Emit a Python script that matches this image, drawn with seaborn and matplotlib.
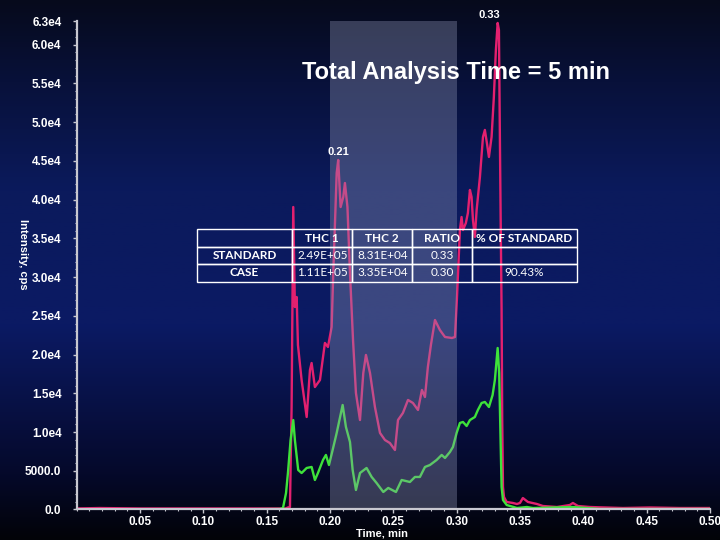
import numpy as np
import pandas as pd
import matplotlib
matplotlib.use("Agg")
import matplotlib.pyplot as plt
import seaborn as sns
from matplotlib.colors import LinearSegmentedColormap
from matplotlib.ticker import FixedLocator, MultipleLocator

# ---- data ----
time_pink = [0.000, 0.018, 0.050, 0.097, 0.145, 0.165, 0.1668, 0.1684, 0.1697, 0.1710, 0.1723, 0.1737,
             0.1747, 0.1776, 0.1816, 0.1842, 0.1855, 0.1881, 0.1921, 0.1960, 0.1984, 0.2013, 0.2026, 0.2053,
             0.2065, 0.2084, 0.2105, 0.2118, 0.2138, 0.2158, 0.2182, 0.2205, 0.2237, 0.2263, 0.2284, 0.2316,
             0.2355, 0.2395, 0.2434, 0.2473, 0.2513, 0.2537, 0.2576, 0.2616, 0.2655, 0.2695, 0.2726, 0.2750,
             0.2773, 0.2797, 0.2829, 0.2868, 0.2908, 0.2963, 0.2987, 0.3002, 0.3026, 0.3039, 0.3050, 0.3073,
             0.3089, 0.3105, 0.3118, 0.3129, 0.3144, 0.3158, 0.3184, 0.3208, 0.3223, 0.3239, 0.3255, 0.3276,
             0.3294, 0.3310, 0.3324, 0.3334, 0.3342, 0.3347, 0.3355, 0.3360, 0.3366, 0.3374, 0.3395, 0.3444,
             0.3476, 0.3500, 0.3523, 0.3563, 0.3634, 0.3681, 0.3792, 0.3894, 0.3918, 0.3958, 0.4053, 0.4313,
             0.4526, 0.4763, 0.5000]
intensity_pink = [130, 190, 130, 130, 130, 130, 260, 320, 13230, 39050, 26140, 27430,
                  21240, 16720, 11940, 18010, 18910, 15810, 16720, 21500, 20980, 23560, 30530, 43440,
                  45120, 39050, 40340, 42150, 39050, 30530, 21880, 15040, 11550, 17620, 19950, 17620,
                  13230, 9880, 8970, 8580, 7680, 11550, 12460, 14140, 13750, 12850, 15430, 14520,
                  18400, 21240, 24460, 23170, 22270, 22140, 22270, 27050, 36080, 37760, 36080, 36990,
                  38280, 41250, 40340, 37370, 35180, 38670, 42930, 48090, 49000, 47320, 45510, 48090,
                  53250, 59320, 62810, 61900, 47320, 38670, 25760, 11550, 2900, 1610, 970, 840,
                  710, 840, 1480, 970, 710, 450, 320, 580, 840, 450, 320, 190,
                  260, 190, 190]

time_green = [0.000, 0.097, 0.1605, 0.1629, 0.1653, 0.1668, 0.1689, 0.1710, 0.1723, 0.1749, 0.1776, 0.1816,
              0.1855, 0.1881, 0.1905, 0.1945, 0.1968, 0.1992, 0.2021, 0.2053, 0.2100, 0.2126, 0.2158, 0.2179,
              0.2205, 0.2237, 0.2289, 0.2329, 0.2368, 0.2421, 0.2460, 0.2521, 0.2566, 0.2631, 0.2671, 0.2710,
              0.2750, 0.2789, 0.2842, 0.2882, 0.2908, 0.2947, 0.2971, 0.3000, 0.3026, 0.3050, 0.3079, 0.3105,
              0.3144, 0.3168, 0.3197, 0.3223, 0.3255, 0.3284, 0.3302, 0.3324, 0.3336, 0.3347, 0.3355, 0.3366,
              0.3395, 0.3476, 0.3555, 0.3603, 0.3918, 0.4132, 0.5000]
intensity_green = [0, 0, 60, 190, 2130, 4710, 8970, 11550, 8970, 5100, 4710, 5360,
                   5490, 3810, 4710, 6390, 7040, 5740, 7680, 9880, 13490, 10650, 8710, 5100,
                   2520, 4710, 5360, 4200, 3420, 2260, 2780, 2260, 3810, 3550, 4200, 4200,
                   5490, 5740, 6390, 7040, 6650, 7420, 8070, 9880, 11170, 11300, 10780, 11550,
                   11940, 12850, 13750, 13880, 13230, 14780, 16720, 20850, 17620, 8970, 2900, 1230,
                   580, 190, 320, 190, 320, 60, 60]

y_ticks = [0, 5000, 10000, 15000, 20000, 25000, 30000, 35000, 40000, 45000, 50000, 55000, 60000, 63000]
y_tick_labels = ["0.0", "5000.0", "1.0e4", "1.5e4", "2.0e4", "2.5e4", "3.0e4", "3.5e4", "4.0e4",
                 "4.5e4", "5.0e4", "5.5e4", "6.0e4", "6.3e4"]
x_ticks = [0.05, 0.10, 0.15, 0.20, 0.25, 0.30, 0.35, 0.40, 0.45, 0.50]
x_tick_labels = ["0.05", "0.10", "0.15", "0.20", "0.25", "0.30", "0.35", "0.40", "0.45", "0.50"]

peak_times = [0.2065, 0.3324]
peak_heights = [45120, 62810]
peak_labels = ["0.21", "0.33"]

shade_range = [0.20, 0.30]

table_columns = ["", "THC 1", "THC 2", "RATIO", "% OF STANDARD"]
table_rows = [["STANDARD", "2.49E+05", "8.31E+04", "0.33", ""],
              ["CASE", "1.11E+05", "3.35E+04", "0.30", "90.43%"]]

# ---- style ----
sns.set_theme(style="white")
plt.rcParams["font.family"] = ["Liberation Sans", "DejaVu Sans"]
AXFONT = ["Liberation Sans", "DejaVu Sans"]

fig = plt.figure(figsize=(7.2, 5.4), dpi=100)

# background gradient
bg = fig.add_axes([0, 0, 1, 1], zorder=-10)
cmap = LinearSegmentedColormap.from_list(
    "bg", [(0.0, "#020308"), (0.12, "#05092a"), (0.40, "#0b1a64"),
           (0.65, "#0b1a5c"), (0.85, "#08113a"), (1.0, "#060a1c")])
grad = np.linspace(0, 1, 256).reshape(-1, 1)
bg.imshow(grad, aspect="auto", cmap=cmap, origin="lower", extent=[0, 1, 0, 1])
bg.axis("off")

ax = fig.add_axes([0.1065, 0.0565, 0.8795, 0.9037])
ax.patch.set_alpha(0)

df_pink = pd.DataFrame({"t": time_pink, "I": intensity_pink})
df_green = pd.DataFrame({"t": time_green, "I": intensity_green})
sns.lineplot(data=df_pink, x="t", y="I", ax=ax, color="#e3206f", lw=1.7,
             estimator=None, sort=False, zorder=2)
sns.lineplot(data=df_green, x="t", y="I", ax=ax, color="#3ee23a", lw=1.7,
             estimator=None, sort=False, zorder=2.5)

ax.axvspan(shade_range[0], shade_range[1], color="#9298b8", alpha=0.36, lw=0, zorder=3)

ax.set_xlim(0, 0.5)
ax.set_ylim(0, 63000)
ax.yaxis.set_major_locator(FixedLocator(y_ticks))
ax.set_yticklabels(y_tick_labels)
ax.xaxis.set_major_locator(FixedLocator(x_ticks))
ax.set_xticklabels(x_tick_labels)
ax.xaxis.set_minor_locator(MultipleLocator(0.01))
ax.yaxis.set_minor_locator(MultipleLocator(1000))

for s in ["top", "right"]:
    ax.spines[s].set_visible(False)
for s in ["left", "bottom"]:
    ax.spines[s].set_color("#c8c8d0")
    ax.spines[s].set_linewidth(1.6)
    ax.spines[s].set_zorder(4)

ax.tick_params(axis="both", which="major", direction="out", length=3, width=1,
               color="#c8c8d0", labelcolor="white", labelsize=8.5)
ax.tick_params(axis="x", which="major", pad=1.5)
ax.tick_params(axis="y", which="major", pad=8)
ax.tick_params(axis="both", which="minor", direction="out", length=1.5, width=0.8,
               color="#c8c8d0")
ax.tick_params(axis="y", which="both", left=True)
ax.tick_params(axis="x", which="both", bottom=True)
for lab in ax.get_xticklabels() + ax.get_yticklabels():
    lab.set_fontweight("bold")
    lab.set_family(AXFONT)
    lab.set_fontsize(8.5)

ax.set_xlabel("")
ax.set_ylabel("")
fig.text(382 / 720, 1 - 533.5 / 540, "Time, min", color="white", fontsize=8, fontweight="bold",
         ha="center", va="center", family=AXFONT)
fig.text(23 / 720, 1 - 254 / 540, "Intensity, cps", color="white", fontsize=8, fontweight="bold",
         ha="center", va="center", rotation=270, family=AXFONT)

for pt, ph, pl, dx in zip(peak_times, peak_heights, peak_labels, [0, -6]):
    ax.annotate(pl, (pt, ph), xytext=(dx, 2), textcoords="offset points", ha="center", va="bottom",
                color="white", fontsize=8, fontweight="bold", annotation_clip=False,
                family=AXFONT, zorder=6)

fig.text(456 / 720, 1 - 73 / 540, "Total Analysis Time = 5 min", color="white", fontsize=17,
         fontweight="bold", ha="center", va="center")

# table
col_w = np.array([95.6, 60, 60, 59.4, 105])
col_w = col_w / col_w.sum()
tbl = ax.table(cellText=[table_columns] + table_rows, colWidths=list(col_w),
               cellLoc="center", bbox=[0.1895, 0.4668, 0.6000, 0.1074], zorder=7)
tbl.auto_set_font_size(False)
for (r, c), cell in tbl.get_celld().items():
    cell.set_facecolor("none")
    cell.set_edgecolor("white")
    cell.set_linewidth(1.0)
    txt = cell.get_text()
    txt.set_color("white")
    txt.set_fontsize(8.5)
    txt.set_family(["Lato", "DejaVu Sans"])
    if r == 0 or c == 0:
        txt.set_fontweight("bold")

fig.savefig("out.png", dpi=100, facecolor="black")
